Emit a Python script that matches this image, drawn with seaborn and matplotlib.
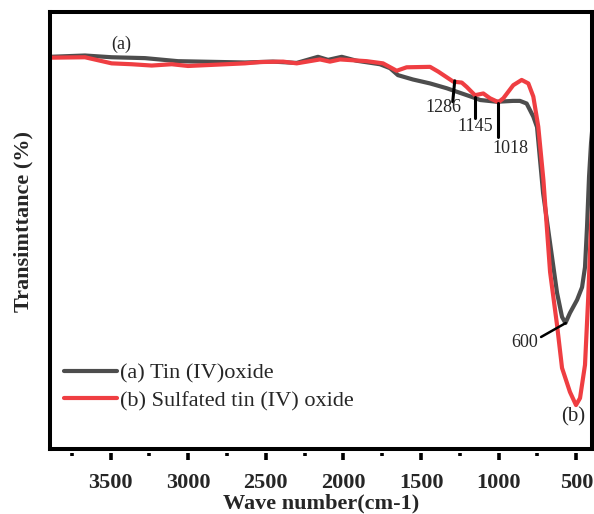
import numpy as np
import pandas as pd
import matplotlib
matplotlib.use("Agg")
import matplotlib.pyplot as plt
import seaborn as sns

# ---- data ----
wn_a = [3890, 3665, 3493, 3278, 3066, 2634, 2454, 2301, 2164, 2099, 2011, 1915,
        1765, 1700, 1649, 1552, 1442, 1335, 1270, 1164, 1119, 1011, 908, 863,
        820, 777, 753, 714, 669, 624, 592, 570, 541, 495, 463, 444, 431, 418,
        405, 392]
t_a = [89.8, 90.1, 89.7, 89.5, 88.8, 88.5, 88.7, 88.4, 89.8, 89.1, 89.8, 88.9,
       88.1, 87.2, 85.6, 84.6, 83.7, 82.6, 81.8, 80.5, 79.9, 79.5, 79.7, 79.7,
       79.1, 76.1, 73.7, 58.6, 47.1, 35.7, 30.2, 28.8, 31.1, 34.1, 37.0, 41.6,
       50.8, 62.3, 70.1, 75.3]

wn_b = [3890, 3665, 3493, 3364, 3235, 3106, 3001, 2634, 2538, 2389, 2301, 2151,
        2087, 2022, 1850, 1745, 1657, 1593, 1442, 1389, 1292, 1238, 1206, 1153,
        1099, 1056, 1002, 970, 906, 852, 809, 777, 745, 712, 669, 624, 592,
        541, 502, 476, 444, 424, 405, 392]
t_b = [89.6, 89.7, 88.3, 88.1, 87.8, 88.1, 87.7, 88.3, 88.6, 88.7, 88.3, 89.2,
       88.7, 89.2, 88.8, 88.3, 86.6, 87.4, 87.5, 86.4, 84.1, 83.9, 82.9, 81.0,
       81.4, 80.3, 79.4, 80.3, 83.3, 84.5, 83.7, 80.7, 73.8, 61.6, 40.5, 28.3,
       18.5, 13.0, 10.0, 11.6, 19.2, 34.1, 51.2, 59.2]

labels = ["(a) Tin (IV)oxide", "(b) Sulfated tin (IV) oxide"]
colors = ["#4d4d4d", "#ef3e42"]
xticks = [3500, 3000, 2500, 2000, 1500, 1000, 500]
peak_labels = ["1286", "1145", "1018", "600"]

df = pd.concat([
    pd.DataFrame({"wn": wn_a, "T": t_a, "sample": labels[0]}),
    pd.DataFrame({"wn": wn_b, "T": t_b, "sample": labels[1]}),
], ignore_index=True)

sns.set_style("white")
plt.rcParams["font.family"] = ["Liberation Serif", "DejaVu Serif"]

W, H = 594, 514
fig = plt.figure(figsize=(W / 100, H / 100), dpi=100)
left, right, top, bottom = 49.7, 592.3, 12.3, 448.7
ax = fig.add_axes([left / W, 1 - bottom / H, (right - left) / W, (bottom - top) / H])

sns.lineplot(data=df, x="wn", y="T", hue="sample", palette=colors,
             estimator=None, sort=False, linewidth=3, ax=ax)

ax.set_xlim(3892, 397)
ax.set_ylim(0, 100)

# frame
for s in ["left", "right", "top"]:
    ax.spines[s].set_linewidth(2.9)
    ax.spines[s].set_color("black")
ax.spines["bottom"].set_position(("outward", 3.0))
ax.spines["bottom"].set_visible(False)
ax.plot([0, 1], [0, 0], transform=ax.transAxes, color="black", lw=2.9,
        clip_on=False, solid_capstyle="projecting", zorder=1)

ax.set_yticks([])
ax.set_xticks(xticks)
ax.set_xticklabels([str(v) for v in xticks], fontsize=16, fontweight="bold")
ax.set_xticks([3750, 3250, 2750, 2250, 1750, 1250, 750], minor=True)
ax.tick_params(axis="x", which="major", direction="out", length=5, width=2.6,
               pad=9.5, color="black", bottom=True)
ax.tick_params(axis="x", which="minor", direction="out", length=2.5, width=2.6,
               color="black", bottom=True)

ax.set_xlabel("Wave number(cm-1)", fontsize=16, fontweight="bold")
ax.xaxis.set_label_coords(0.5, -0.102)
ax.set_ylabel("Transimttance (%)", fontsize=16, fontweight="bold")
ax.yaxis.set_label_coords(-0.029, 0.52)

# annotations
ann = [((1283, 84.3), (1296, 79.5), (1357, 78.1)),
       ((1154, 80.7), (1154, 75.7), (1153, 73.8)),
       ((1002, 79.3), (1002, 71.5), (927, 68.8))]
for lab, (p0, p1, pt) in zip(peak_labels[:3], ann):
    ax.plot([p0[0], p1[0]], [p0[1], p1[1]], color="black", lw=2.2)
    ax.text(pt[0], pt[1], lab, fontsize=13, ha="center", va="center")
ax.plot([727, 568], [25.6, 28.8], color="black", lw=1.8)
ax.text(830, 24.3, peak_labels[3], fontsize=13, ha="center", va="center")
ax.text(3428, 92.7, "(a)", fontsize=13, ha="center", va="center")
ax.text(523, 7.3, "(b)", fontsize=15, ha="center", va="center")

leg = ax.legend(loc="center left", bbox_to_anchor=(64 / W, 1 - 387 / H),
                bbox_transform=fig.transFigure, frameon=False, fontsize=16,
                handlelength=2.4, handletextpad=0.1, labelspacing=0.33,
                borderpad=0, borderaxespad=0)
for line in leg.get_lines():
    line.set_linewidth(3)

fig.canvas.draw()
fig.savefig("out.png", dpi=100)
